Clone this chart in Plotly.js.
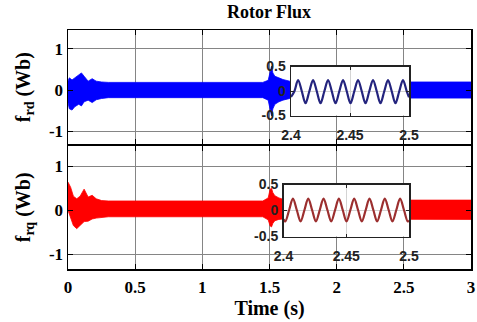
<!DOCTYPE html>
<html>
<head>
<meta charset="utf-8">
<script src="https://cdn.plot.ly/plotly-3.0.1.min.js"></script>
<style>html,body{margin:0;padding:0;background:#fff;}#chart{width:477px;height:322px;}</style>
</head>
<body>
<div id="chart"></div>
<script>
// ---- Data ----
// Rotor flux d-axis (blue): envelope of the dense oscillation band
const tD = [0, 0.01, 0.03, 0.05, 0.08, 0.10, 0.12, 0.15, 0.18, 0.21, 0.25, 0.30, 0.50, 1.00, 1.45, 1.49, 1.505, 1.515, 1.525, 1.54, 1.57, 1.60, 1.65, 1.70, 2.00, 2.50, 2.60, 3.00];
const upD = [0.22, 0.30, 0.25, 0.30, 0.38, 0.42, 0.34, 0.22, 0.28, 0.22, 0.20, 0.19, 0.19, 0.19, 0.19, 0.24, 0.50, 0.58, 0.42, 0.34, 0.30, 0.26, 0.22, 0.20, 0.20, 0.20, 0.20, 0.20];
const loD = [-0.30, -0.45, -0.48, -0.40, -0.34, -0.38, -0.28, -0.24, -0.30, -0.23, -0.20, -0.18, -0.18, -0.18, -0.18, -0.24, -0.52, -0.62, -0.45, -0.34, -0.28, -0.24, -0.20, -0.19, -0.19, -0.19, -0.19, -0.19];

// Rotor flux q-axis (red): envelope of the dense oscillation band
const tQ = [0, 0.02, 0.04, 0.065, 0.09, 0.12, 0.15, 0.18, 0.21, 0.25, 0.30, 0.50, 1.00, 1.45, 1.49, 1.505, 1.515, 1.525, 1.54, 1.57, 1.60, 1.70, 2.00, 2.50, 2.60, 3.00];
const upQ = [0.64, 0.52, 0.32, 0.26, 0.32, 0.48, 0.30, 0.34, 0.26, 0.22, 0.21, 0.21, 0.21, 0.21, 0.28, 0.48, 0.50, 0.40, 0.33, 0.28, 0.25, 0.23, 0.23, 0.23, 0.23, 0.23];
const loQ = [0.00, -0.20, -0.35, -0.42, -0.34, -0.26, -0.25, -0.20, -0.18, -0.16, -0.15, -0.15, -0.15, -0.15, -0.22, -0.36, -0.38, -0.30, -0.24, -0.21, -0.20, -0.20, -0.20, -0.21, -0.21, -0.21];

// Zoomed views 2.4 - 2.5 s
const tZoomD = [2.4000, 2.4028, 2.4060, 2.4092, 2.4123, 2.4155, 2.4187, 2.4219, 2.4250, 2.4282, 2.4314, 2.4346, 2.4377, 2.4409, 2.4441, 2.4473, 2.4504, 2.4536, 2.4568, 2.4600, 2.4631, 2.4663, 2.4695, 2.4727, 2.4758, 2.4790, 2.4822, 2.4854, 2.4885, 2.4917, 2.4949, 2.4981, 2.5000];
const vZoomD = [-0.12, -0.01, 0.22, -0.01, -0.25, -0.01, 0.22, -0.01, -0.25, -0.01, 0.22, -0.01, -0.25, -0.01, 0.22, -0.01, -0.25, -0.01, 0.22, -0.01, -0.25, -0.01, 0.22, -0.01, -0.25, -0.01, 0.22, -0.01, -0.25, -0.01, 0.22, -0.01, -0.13];
const tZoomQ = [2.4000, 2.4014, 2.4045, 2.4075, 2.4106, 2.4136, 2.4167, 2.4197, 2.4228, 2.4258, 2.4289, 2.4319, 2.4350, 2.4380, 2.4411, 2.4441, 2.4472, 2.4502, 2.4533, 2.4563, 2.4594, 2.4624, 2.4655, 2.4685, 2.4716, 2.4746, 2.4777, 2.4807, 2.4838, 2.4868, 2.4899, 2.4929, 2.4960, 2.4990, 2.5000];
const vZoomQ = [-0.17, -0.21, 0.01, 0.23, 0.01, -0.21, 0.01, 0.23, 0.01, -0.21, 0.01, 0.23, 0.01, -0.21, 0.01, 0.23, 0.01, -0.21, 0.01, 0.23, 0.01, -0.21, 0.01, 0.23, 0.01, -0.21, 0.01, 0.23, 0.01, -0.21, 0.01, 0.23, 0.01, -0.21, -0.19];

// Tick labels
const mainXTicks = [0, 0.5, 1, 1.5, 2, 2.5, 3];
const mainXLabels = ['0', '0.5', '1', '1.5', '2', '2.5', '3'];
const mainYTicks = [-1, 0, 1];
const mainYLabels = ['-1', '0', '1'];
const zoomXTicks = [2.4, 2.45, 2.5];
const zoomXLabels = ['2.4', '2.45', '2.5'];
const zoomYTicks = [-0.5, 0, 0.5];
const zoomYLabels = ['-0.5', '0', '0.5'];

// ---- Drawing ----
const W = 477, H = 322;
const px = v => v / W;
const py = v => 1 - v / H;

const BLUE = '#0000ff', RED = '#ff0000';
const serif = 'Liberation Serif, Times New Roman, serif';
const sans = 'Liberation Sans, Arial, sans-serif';

const traces = [
  {x: tD, y: upD, xaxis: 'x', yaxis: 'y', mode: 'lines', line: {color: BLUE, width: 0.8}, hoverinfo: 'skip', showlegend: false},
  {x: tD, y: loD, xaxis: 'x', yaxis: 'y', mode: 'lines', line: {color: BLUE, width: 0.8}, fill: 'tonexty', fillcolor: BLUE, hoverinfo: 'skip', showlegend: false},
  {x: tQ, y: upQ, xaxis: 'x2', yaxis: 'y2', mode: 'lines', line: {color: RED, width: 0.8}, hoverinfo: 'skip', showlegend: false},
  {x: tQ, y: loQ, xaxis: 'x2', yaxis: 'y2', mode: 'lines', line: {color: RED, width: 0.8}, fill: 'tonexty', fillcolor: RED, hoverinfo: 'skip', showlegend: false},
  {x: tZoomD, y: vZoomD, xaxis: 'x3', yaxis: 'y3', mode: 'lines', line: {color: '#24247e', width: 2.2, shape: 'spline', smoothing: 1}, showlegend: false},
  {x: tZoomQ, y: vZoomQ, xaxis: 'x4', yaxis: 'y4', mode: 'lines', line: {color: '#9c2f2f', width: 2.2, shape: 'spline', smoothing: 1}, showlegend: false}
];

const mainX = {
  range: [0, 3], tickvals: mainXTicks, ticktext: mainXLabels,
  ticks: 'inside', ticklen: 5, tickwidth: 1, tickcolor: '#000',
  showline: true, linecolor: '#000', linewidth: 1.5, mirror: 'allticks',
  showgrid: true, gridcolor: '#858585', gridwidth: 1, zeroline: false,
  tickfont: {family: serif, size: 17, color: '#000', weight: 'bold'}
};
const mainY = {
  tickvals: mainYTicks, ticktext: mainYLabels,
  ticks: 'inside', ticklen: 5, tickwidth: 1, tickcolor: '#000',
  showline: true, linecolor: '#000', linewidth: 1.5, mirror: 'allticks',
  showgrid: true, gridcolor: '#858585', gridwidth: 1, zeroline: false,
  tickfont: {family: serif, size: 17, color: '#000', weight: 'bold'},
  title: {font: {family: serif, size: 20, color: '#000', weight: 'bold'}, standoff: 13}
};
const zoomX = {
  range: [2.4, 2.5], tickvals: zoomXTicks, ticktext: zoomXLabels,
  ticks: 'inside', ticklen: 3, tickcolor: '#222',
  showline: true, linecolor: '#222', linewidth: 1.5, mirror: 'allticks',
  showgrid: true, gridcolor: '#d4d4d4', zeroline: false,
  tickfont: {family: sans, size: 14, color: '#222', weight: 'bold'},
  ticklabelstandoff: 6
};
const zoomY = {
  range: [-0.5, 0.5], tickvals: zoomYTicks, ticktext: zoomYLabels,
  ticks: 'inside', ticklen: 3, tickcolor: '#222',
  showline: true, linecolor: '#222', linewidth: 1.5, mirror: 'allticks',
  showgrid: true, gridcolor: '#d4d4d4', zeroline: false,
  tickfont: {family: sans, size: 14, color: '#222', weight: 'bold'},
  ticklabelstandoff: 1
};

const layout = {
  width: W, height: H,
  margin: {l: 0, r: 0, t: 0, b: 0},
  paper_bgcolor: '#fff', plot_bgcolor: '#fff',
  showlegend: false,
  title: {
    text: 'Rotor Flux', font: {family: serif, size: 18, color: '#000', weight: 'bold'},
    x: px(269), xanchor: 'center', xref: 'paper', y: py(12), yanchor: 'middle', yref: 'container'
  },
  xaxis: Object.assign({}, mainX, {domain: [px(68), px(471)], anchor: 'y', showticklabels: false}),
  yaxis: Object.assign({}, mainY, {domain: [py(144.3), py(30)], anchor: 'x', range: [-1.31, 1.46],
    title: Object.assign({}, mainY.title, {text: 'f<sub>rd</sub> (Wb)'})}),
  xaxis2: Object.assign({}, mainX, {domain: [px(68), px(471)], anchor: 'y2', ticklabelstandoff: 2,
    title: {text: 'Time (s)', font: {family: serif, size: 20, color: '#000', weight: 'bold'}, standoff: 2}}),
  yaxis2: Object.assign({}, mainY, {domain: [py(269), py(145.7)], anchor: 'x2', range: [-1.34, 1.47],
    title: Object.assign({}, mainY.title, {text: 'f<sub>rq</sub> (Wb)'})}),
  xaxis3: Object.assign({}, zoomX, {domain: [px(291), px(409)], anchor: 'y3'}),
  yaxis3: Object.assign({}, zoomY, {domain: [py(115.5), py(66.5)], anchor: 'x3'}),
  xaxis4: Object.assign({}, zoomX, {domain: [px(283.5), px(409)], anchor: 'y4'}),
  yaxis4: Object.assign({}, zoomY, {domain: [py(236.5), py(184.5)], anchor: 'x4'})
};

Plotly.newPlot('chart', traces, layout, {staticPlot: true, displayModeBar: false});
</script>
</body>
</html>
